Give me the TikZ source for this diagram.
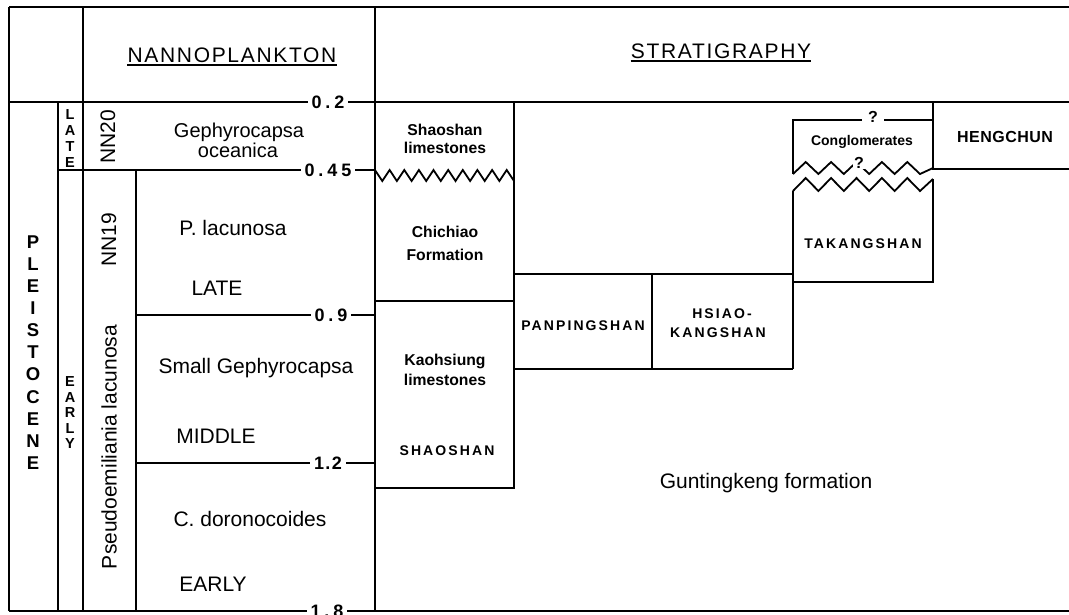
\documentclass[tikz,border=0pt]{standalone}
\usepackage{fontspec}
\setmainfont{Liberation Sans}
\tikzset{
  frame/.style={line width=1.8pt},
  outer/.style={line width=2.4pt},
  nano/.style={font=\fontsize{21}{24}\selectfont, anchor=base, inner sep=0pt},
  strat/.style={font=\bfseries\fontsize{15.7}{18}\selectfont, anchor=base, inner sep=0pt},
  capsbox/.style={font=\bfseries\fontsize{14}{16}\selectfont\addfontfeature{LetterSpace=15}, anchor=base, inner sep=0pt},
  agelabel/.style={font=\bfseries\fontsize{18}{20}\selectfont\addfontfeature{LetterSpace=22}, fill=white, inner xsep=4pt, inner ysep=1pt},
  vertlabel/.style={font=\fontsize{21}{24}\selectfont, rotate=90, inner sep=0pt},
  stackletter/.style={font=\bfseries\fontsize{14.5}{16}\selectfont, inner sep=0pt},
  bigstack/.style={font=\bfseries\fontsize{18.5}{20}\selectfont, inner sep=0pt},
  headtext/.style={font=\fontsize{21}{24}\selectfont\addfontfeature{LetterSpace=8}, anchor=base, inner sep=0pt},
  qmark/.style={font=\bfseries\fontsize{16}{18}\selectfont, fill=white, inner xsep=6pt, inner ysep=0pt},
}
\begin{document}
\begin{tikzpicture}[x=1pt,y=-1pt]
\useasboundingbox (0,0) rectangle (1069,614);

% ---- frame ----
\draw[outer] (9,7) -- (1069,7);
\draw[outer] (9,7) -- (9,611);
\draw[outer] (9,611) -- (1069,611);
\draw[frame] (9,102) -- (1069,102);
\draw[frame] (83,7) -- (83,611);
\draw[frame] (375,7) -- (375,611);
\draw[frame] (58,102) -- (58,611);
\draw[frame] (58,170) -- (375,170);
\draw[frame] (136,170) -- (136,611);
\draw[frame] (136,315) -- (375,315);
\draw[frame] (136,463) -- (375,463);

% ---- stratigraphy boxes ----
\draw[frame] (514,102) -- (514,488) -- (375,488);
\draw[frame] (375,301) -- (514,301);
\draw[frame] (375,170) -- (382.3,181) -- (389.6,170) -- (396.9,181) -- (404.3,170) -- (411.6,181) -- (418.9,170) -- (426.2,181) -- (433.5,170) -- (440.8,181) -- (448.2,170) -- (455.5,181) -- (462.8,170) -- (470.1,181) -- (477.4,170) -- (484.7,181) -- (492.1,170) -- (499.4,181) -- (506.7,170) -- (514,181);
\draw[frame] (514,274) -- (793,274);
\draw[frame] (514,369) -- (793,369);
\draw[frame] (652,274) -- (652,369);
\draw[frame] (793,191) -- (793,369);
\draw[frame] (793,282) -- (933,282) -- (933,179);
\draw[frame] (793,174) -- (793,120) -- (933,120);
\draw[frame] (933,102) -- (933,169) -- (1069,169);
% upper zigzag (conglomerates base)
\draw[frame] (793,174) -- (805.7,162) -- (818.4,174) -- (831.1,162) -- (843.8,174) -- (856.5,162) -- (869.2,174) -- (881.9,162) -- (894.6,174) -- (907.3,162) -- (920,174) -- (933,168);
% lower zigzag (takangshan top)
\draw[frame] (793,191) -- (805.7,178) -- (818.4,191) -- (831.1,178) -- (843.8,191) -- (856.5,178) -- (869.2,191) -- (881.9,178) -- (894.6,191) -- (907.3,178) -- (920,191) -- (933,179);

% ---- headers ----
\node[headtext] (hnano) at (232,62) {NANNOPLANKTON};
\draw[line width=1.4pt] ([yshift=-3pt]hnano.base west) -- ([yshift=-3pt]hnano.base east);
\node[headtext] (hstrat) at (721,58) {STRATIGRAPHY};
\draw[line width=1.4pt] ([yshift=-3pt]hstrat.base west) -- ([yshift=-3pt]hstrat.base east);

% ---- age labels ----
\node[agelabel] (a02) at (328,102) {0.2};
\node[agelabel] (a045) at (328,170) {0.45};
\node[agelabel] (a09) at (331,315) {0.9};
\node[agelabel, font=\bfseries\fontsize{18}{20}\selectfont\addfontfeature{LetterSpace=8}] (a12) at (328,463) {1.2};
\node[agelabel] (a18) at (327,611) {1.8};

% ---- epoch column ----
\foreach \l [count=\i from 0] in {P,L,E,I,S,T,O,C,E,N,E}
  \node[bigstack] (pl\i) at (33,{242+22.1*\i}) {\l};
\foreach \l [count=\i from 0] in {L,A,T,E}
  \node[stackletter] (lt\i) at (70,{115+16*\i}) {\l};
\foreach \l [count=\i from 0] in {E,A,R,L,Y}
  \node[stackletter] (er\i) at (70,{382+15.5*\i}) {\l};

% ---- nannoplankton zones ----
\node[vertlabel] (nn20) at (108,137) {NN20};
\node[vertlabel] (nn19) at (109,240) {NN19};
\node[vertlabel] (pseudo) at (109,447) {Pseudoemiliania lacunosa};
\node[nano, font=\fontsize{20}{22}\selectfont] (geph) at (239,137) {Gephyrocapsa};
\node[nano, font=\fontsize{20}{22}\selectfont] (ocea) at (238,157) {oceanica};
\node[nano] (placu) at (233,235) {P. lacunosa};
\node[nano] (late) at (217,295) {LATE};
\node[nano] (smallg) at (256,373) {Small Gephyrocapsa};
\node[nano] (middle) at (216,443) {MIDDLE};
\node[nano] (cdoro) at (250,526) {C. doronocoides};
\node[nano] (early) at (213,591) {EARLY};

% ---- stratigraphy labels ----
\node[strat] (shl1) at (445,135) {Shaoshan};
\node[strat] (shl2) at (445,153) {limestones};
\node[strat] (chi1) at (445,237) {Chichiao};
\node[strat] (chi2) at (445,260) {Formation};
\node[strat] (kao1) at (445,365) {Kaohsiung};
\node[strat] (kao2) at (445,385) {limestones};
\node[capsbox] (shaoshan) at (447,455) {SHAOSHAN};
\node[capsbox] (panping) at (583,330) {PANPINGSHAN};
\node[capsbox] (hsiao1) at (722,318) {HSIAO-};
\node[capsbox] (hsiao2) at (718,337) {KANGSHAN};
\node[strat, font=\bfseries\fontsize{14}{16}\selectfont] (congl) at (862,145) {Conglomerates};
\node[qmark] (q1) at (873,117) {?};
\node[qmark, inner xsep=1pt] (q2) at (859,163) {?};
\node[capsbox] (takang) at (863,248) {TAKANGSHAN};
\node[strat, font=\bfseries\fontsize{16}{18}\selectfont\addfontfeature{LetterSpace=3}] (heng) at (1005,142) {HENGCHUN};
\node[nano] (gunt) at (766,488) {Guntingkeng formation};
\end{tikzpicture}
\end{document}
